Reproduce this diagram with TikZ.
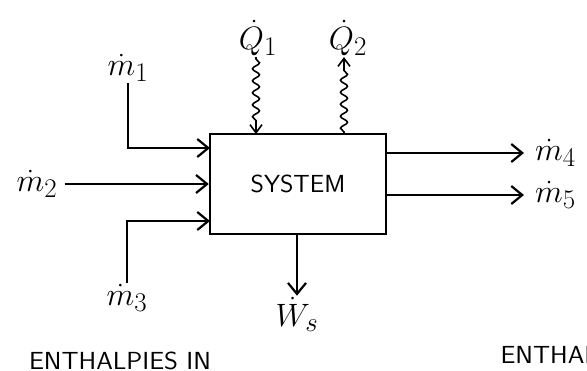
\documentclass[tikz,border=0pt]{standalone}
\usepackage{amsmath}
\usepackage{tikz}
\usetikzlibrary{arrows.meta,decorations.pathmorphing}

\newcommand{\lab}[1]{\scalebox{1.3}{\Huge$#1$}}
\newcommand{\hw}[2][1.4]{\scalebox{#1}[1.3]{#2}}

\tikzset{
  flow/.style={line width=2.4pt, -{Straight Barb[length=11pt,width=18pt,line width=2.2pt]}},
  heat/.style={line width=1.6pt, -{Straight Barb[length=8pt,width=12pt,line width=1.6pt]},
    decorate, decoration={snake, segment length=12pt, amplitude=3.5pt, pre length=2pt, post length=8pt}},
  lbl/.style={inner sep=1pt},
  hand/.style={font=\sffamily\fontsize{19}{21}\selectfont}
}

\begin{document}
\begin{tikzpicture}[x=1pt, y=-1pt]
  \useasboundingbox (0,0) rectangle (587,370);

  % system box
  \node[draw, line width=2.4pt, minimum width=176pt, minimum height=100pt, hand] (sys) at (298,184) {\hw[1.35]{SYSTEM}};

  % inlets
  \node[lbl] (m1) at (128,68) {\lab{\dot m_1}};
  \node[lbl] (m2) at (37,184) {\lab{\dot m_2}};
  \node[lbl] (m3) at (127,298) {\lab{\dot m_3}};
  \coordinate (in1) at (210,148);
  \coordinate (in3) at (210,221);
  \draw[flow] (m1.south) |- (in1);
  \draw[flow, shorten <=6pt] (m2.east) -- (m2.east -| sys.west);
  \draw[flow] (m3.north) |- (in3);

  % outlets
  \node[lbl, anchor=west] (m4) at (534,153) {\lab{\dot m_4}};
  \node[lbl, anchor=west] (m5) at (534,195) {\lab{\dot m_5}};
  \draw[flow, shorten >=10pt] (m4.west -| sys.east) -- (m4.west);
  \draw[flow, shorten >=10pt] (m5.west -| sys.east) -- (m5.west);

  % heat
  \node[lbl] (q1) at (258,38) {\lab{\dot Q_1}};
  \node[lbl] (q2) at (348,38) {\lab{\dot Q_2}};
  \coordinate (q1in) at (256,134);
  \coordinate (q2out) at (344,134);
  \draw[heat] (q1.south -| q1in) -- (q1in);
  \draw[heat] (q2out) -- (q2.south -| q2out);

  % work
  \node[lbl] (ws) at (297,314) {\lab{\dot W_s}};
  \draw[flow] (sys.south -| ws) -- (ws.north);

  % enthalpies
  \node[hand] (hin) at (120,361) {\hw{ENTHALPIES IN}};
  \node[hand, anchor=west] (hout) at (497,355) {\hw{ENTHAL}};
\end{tikzpicture}
\end{document}
